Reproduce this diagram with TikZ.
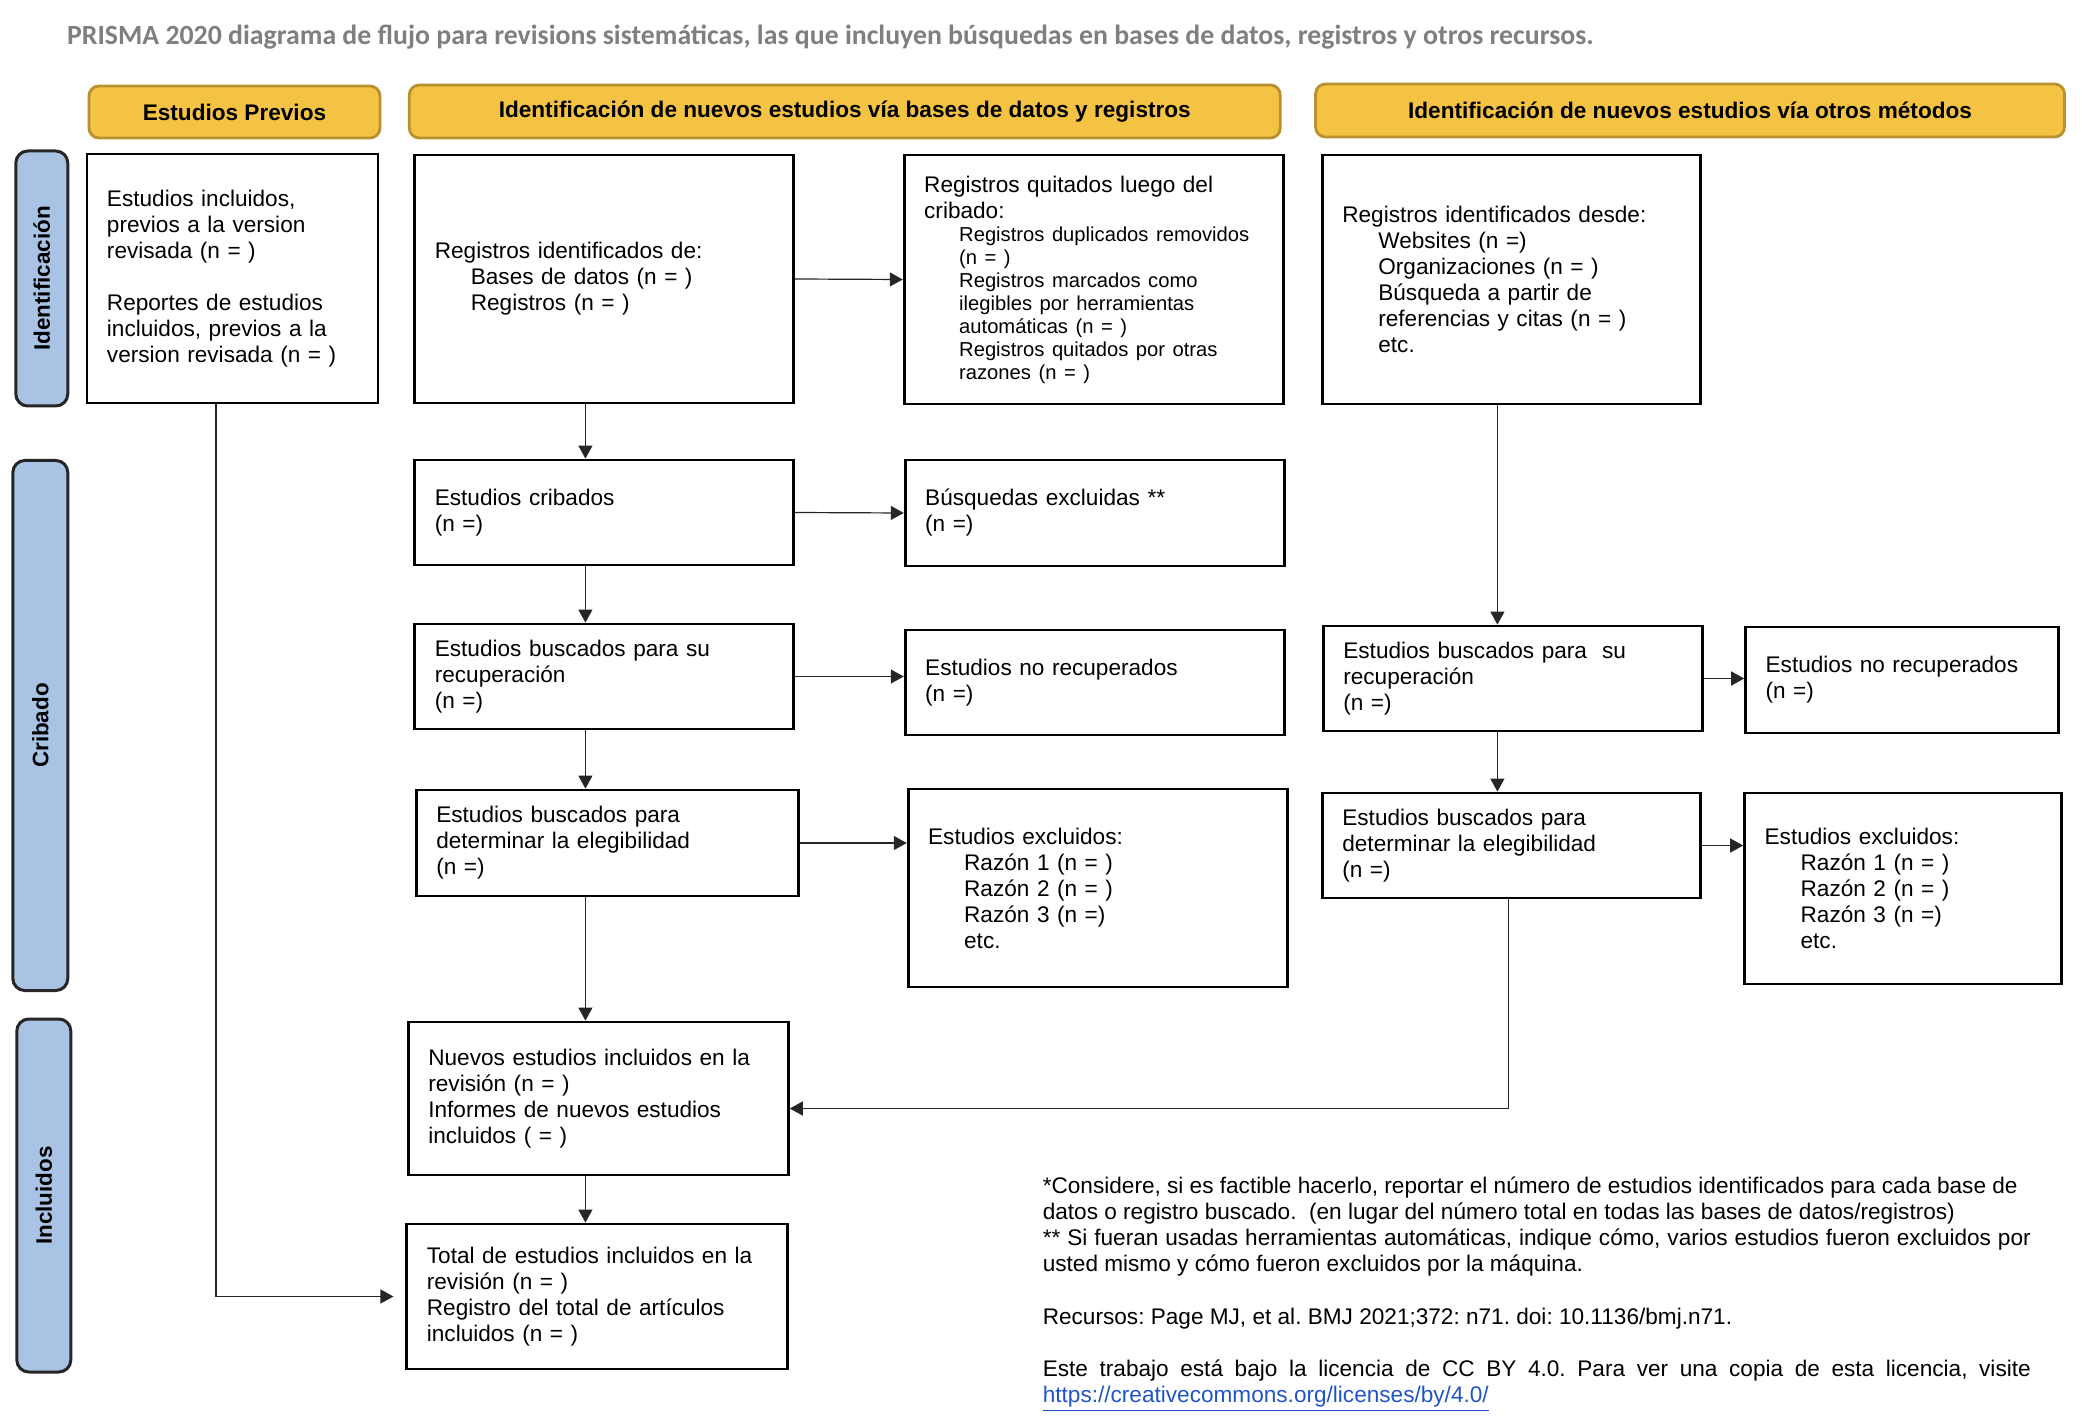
\documentclass[tikz,border=0pt]{standalone}
\usepackage{fontspec}
\setmainfont{Liberation Sans}
\newfontfamily\titulofont{Carlito}
\usetikzlibrary{arrows.meta}
\definecolor{amarillo}{HTML}{F4C343}
\definecolor{oro}{HTML}{B8912F}
\definecolor{azul}{HTML}{A9C3E5}
\definecolor{gris}{HTML}{7F7F7F}
\definecolor{enlace}{HTML}{1F55C6}
\newcommand\sangria[2][18pt]{\par{\setlength{\leftskip}{#1}\setlength{\parindent}{0pt}#2\par}}
\frenchspacing
\begin{document}
\begin{tikzpicture}[x=0.4978pt, y=-0.5pt,
    caja/.style 2 args={draw, line width=1.4pt, text width=#1, minimum height=#2,
        inner xsep=10pt, inner ysep=0pt, align=left,
        execute at begin node={\setlength{\parindent}{0pt}}, font=\fontsize{11.3}{13}\selectfont},
    cabeza/.style 2 args={draw=oro, fill=amarillo, line width=1.4pt, rounded corners=5pt,
        minimum width=#1, minimum height=#2, inner sep=0pt,
        font=\bfseries\fontsize{11.3}{13}\selectfont},
    lateral/.style 2 args={draw=black!85, fill=azul, line width=1.5pt, rounded corners=6pt,
        rotate=90, minimum width=#1, minimum height=#2, inner sep=0pt,
        font=\bfseries\fontsize{11.2}{13}\selectfont},
    flecha/.style={-{Triangle[length=6.5pt,width=7pt]}, line width=0.6pt, draw=black!85}]
    \useasboundingbox (0pt,0pt) rectangle (1043pt,-711pt);
    % titulo
    \node[anchor=west, inner sep=0pt, text=gris, font=\titulofont\bfseries\fontsize{13.9}{16}\selectfont] (titulo) at (67,37)
        {PRISMA 2020 diagrama de flujo para revisions sistemáticas, las que incluyen búsquedas en bases de datos, registros y otros recursos.};
    % cabeceras
    \node[cabeza={145.5pt}{26pt}] (hprev) at (235.5,112) {Estudios Previos};
    \node[cabeza={435.5pt}{26.5pt}] (hbd) at (848.5,111.5) {Identificación de nuevos estudios vía bases de datos y registros};
    \node[cabeza={374.5pt}{26.5pt}] (hot) at (1697.5,110.5) {Identificación de nuevos estudios vía otros métodos};
    % etapas
    \node[lateral={127.5pt}{26pt}] (sid) at (42,278.5) {Identificación};
    \node[lateral={265pt}{27.5pt}] (scrib) at (40.5,725.5) {Cribado};
    \node[lateral={176.5pt}{27pt}] (sinc) at (44,1195.5) {Incluidos};
    % identificacion
    \node[caja={125.5pt}{124.5pt}] (prev) at (233.5,278.5) {Estudios incluidos,\\ previos a la version\\ revisada (n = )\\[13pt]
        Reportes de estudios\\ incluidos, previos a la\\ version revisada (n = )};
    \node[caja={169.5pt}{124pt}] (regid) at (607,279) {Registros identificados de:
        \sangria{Bases de datos (n = )\\ Registros (n = )}};
    \node[caja={169.5pt}{124.5pt}] (quit) at (1098.5,279.5) {Registros quitados luego del\\ cribado:
        \sangria[17.5pt]{\fontsize{10.1}{11.5}\selectfont Registros duplicados removidos\\ (n = )\\ Registros marcados como\\
        ilegibles por herramientas\\ automáticas (n = )\\ Registros quitados por otras\\ razones (n = )}};
    \node[caja={169pt}{124.5pt}] (otros) at (1518,279.5) {Registros identificados desde:
        \sangria{Websites (n =)\\ Organizaciones (n = )\\ Búsqueda a partir de\\ referencias y citas (n = )\\ etc.}};
    % cribado
    \node[caja={169.5pt}{52.5pt}] (crib) at (607,512.5) {Estudios cribados\\ (n =)};
    \node[caja={169.5pt}{53pt}] (busq) at (1099.5,513) {Búsquedas excluidas **\\ (n =)};
    \node[caja={169.5pt}{52.5pt}] (busc1) at (607,676.5) {Estudios buscados para su\\ recuperación\\ (n =)};
    \node[caja={169.5pt}{52.5pt}] (norec1) at (1099.5,682.5) {Estudios no recuperados\\ (n =)};
    \node[caja={169.5pt}{52.5pt}] (busc2) at (1519.5,678.5) {Estudios buscados para\ \ su\\ recuperación\\ (n =)};
    \node[caja={136.5pt}{53pt}] (norec2) at (1910.5,680) {Estudios no recuperados\\ (n =)};
    \node[caja={171pt}{53pt}] (eleg1) at (610,843) {Estudios buscados para\\ determinar la elegibilidad\\ (n =)};
    \node[caja={169.5pt}{99pt}] (excl1) at (1102.5,888) {Estudios excluidos:
        \sangria{Razón 1 (n = )\\ Razón 2 (n = )\\ Razón 3 (n =)\\ etc.}};
    \node[caja={169pt}{52.5pt}] (eleg2) at (1518,845.5) {Estudios buscados para\\ determinar la elegibilidad\\ (n =)};
    \node[caja={138.5pt}{95.5pt}] (excl2) at (1911.5,888.5) {Estudios excluidos:
        \sangria{Razón 1 (n = )\\ Razón 2 (n = )\\ Razón 3 (n =)\\ etc.}};
    % incluidos
    \node[caja={170pt}{76.5pt}] (nuevos) at (601,1098.5) {Nuevos estudios incluidos en la\\ revisión (n = )\\
        Informes de nuevos estudios\\ incluidos ( = )};
    \node[caja={170.5pt}{72.5pt}] (total) at (600,1296.5) {Total de estudios incluidos en la\\ revisión (n = )\\
        Registro del total de artículos\\ incluidos (n = )};
    % notas
    \node[anchor=north west, inner sep=0pt, text width=494pt, align=justify,
        execute at begin node={\setlength{\parindent}{0pt}}, font=\fontsize{11.3}{13.1}\selectfont] (notas) at (1047,1176)
        {*Considere, si es factible hacerlo, reportar el número de estudios identificados para cada base de\\
        datos o registro buscado.\ \ (en lugar del número total en todas las bases de datos/registros)\\{}%
        ** Si fueran usadas herramientas automáticas, indique cómo, varios estudios fueron excluidos por\linebreak
        usted mismo y cómo fueron excluidos por la máquina.\\[13.1pt]
        Recursos: Page MJ, et al. BMJ 2021;372: n71. doi: 10.1136/bmj.n71.\\[13.1pt]
        Este trabajo está bajo la licencia de CC BY 4.0. Para ver una copia de esta licencia, visite\linebreak
        \textcolor{enlace}{\underline{https://creativecommons.org/licenses/by/4.0/}}};
    % flechas
    \coordinate (xbd) at (588,0);
    \coordinate (xot) at (1504,0);
    \coordinate (xret) at (1515,0);
    \coordinate (xprev) at (217,0);
    \draw[flecha] (regid.east) -- (quit.west);
    \draw[flecha] (crib.east) -- (busq.west);
    \draw[flecha] (busc1.east) -- (busc1.east -| norec1.west);
    \draw[flecha] (eleg1.east) -- (eleg1.east -| excl1.west);
    \draw[flecha] (busc2.east) -- (busc2.east -| norec2.west);
    \draw[flecha] (eleg2.east) -- (eleg2.east -| excl2.west);
    \foreach \a/\b in {regid/crib, crib/busc1, busc1/eleg1, eleg1/nuevos, nuevos/total}
        \draw[flecha] (\a.south -| xbd) -- (\b.north -| xbd);
    \foreach \a/\b in {otros/busc2, busc2/eleg2}
        \draw[flecha] (\a.south -| xot) -- (\b.north -| xot);
    \draw[flecha] (eleg2.south -| xret) |- ([yshift=-5pt]nuevos.east);
    \draw[flecha, shorten >=6pt] (prev.south -| xprev) |- (total.west);
\end{tikzpicture}
\end{document}
